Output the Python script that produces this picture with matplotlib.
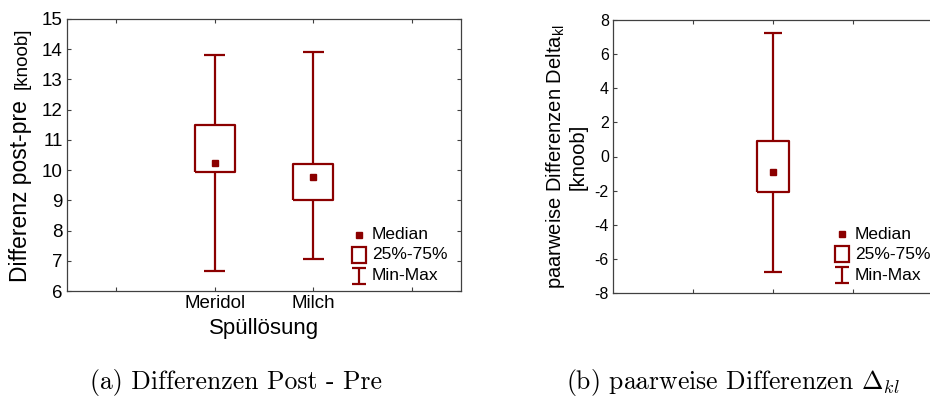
import matplotlib
matplotlib.use("Agg")
import matplotlib.pyplot as plt
from matplotlib import transforms
from matplotlib.lines import Line2D
from matplotlib.patches import Rectangle

plt.rcParams['font.family'] = ['Liberation Sans', 'DejaVu Sans']
plt.rcParams['axes.unicode_minus'] = False
plt.rcParams['mathtext.fontset'] = 'custom'
plt.rcParams['mathtext.rm'] = 'Liberation Sans'
plt.rcParams['mathtext.it'] = 'Liberation Sans:italic'

# data (a): differences post - pre per rinse
groups = ['Meridol', 'Milch']
mins = [6.65, 7.05]
q1s = [9.95, 9.0]
medians = [10.22, 9.78]
q3s = [11.48, 10.2]
maxs = [13.8, 13.9]

# data (b): pairwise differences
delta_min = -6.75
delta_q1 = -2.1
delta_med = -0.9
delta_q3 = 0.9
delta_max = 7.25

red = '#8b0000'
spine_col = '#404040'

fig = plt.figure(figsize=(9.3, 4.03), dpi=100)
ax1 = fig.add_axes([67/930, 112/403, 394/930, 272/403])
ax2 = fig.add_axes([613/930, 110/403, 320/930, 273/403])


def style_axes(ax, size, right=True):
    for s in ax.spines.values():
        s.set_color(spine_col)
        s.set_linewidth(0.9)
    ax.tick_params(direction='in', length=3, width=0.8, color=spine_col,
                   top=True, right=right, labelsize=size, pad=3)


def draw_box(ax, pos, lo, q1, med, q3, hi, width, capw):
    st = [dict(whislo=lo, q1=q1, med=med, q3=q3, whishi=hi, mean=med, fliers=[])]
    lp = dict(color=red, linewidth=1.6, solid_capstyle='butt')
    ax.bxp(st, positions=[pos], widths=width, capwidths=capw,
           showmeans=True, showfliers=False,
           boxprops=lp, whiskerprops=lp, capprops=lp,
           medianprops=dict(visible=False),
           meanprops=dict(marker='s', markersize=4.2, markerfacecolor=red,
                          markeredgecolor=red))


def draw_legend(ax, x0, y0, size):
    # offsets in pixels from the median marker
    tr = transforms.Affine2D() + transforms.ScaledTranslation(x0, y0, ax.transAxes)
    ax.add_line(Line2D([0], [0], marker='s', markersize=4, color=red,
                       linestyle='none', transform=tr, clip_on=False))
    ax.add_patch(Rectangle((-7, -28), 14, 16, fill=False, edgecolor=red,
                           linewidth=1.6, transform=tr, clip_on=False))
    for xs, ys in [([0, 0], [-33, -49]), ([-7, 7], [-33, -33]), ([-7, 7], [-49, -49])]:
        ax.add_line(Line2D(xs, ys, color=red, linewidth=1.6, transform=tr,
                           clip_on=False, solid_capstyle='butt'))
    for txt, yy in [('Median', 0), ('25%-75%', -20), ('Min-Max', -41)]:
        ax.text(13, yy, txt, transform=tr, fontsize=size, va='center', ha='left')


# (a)
for i in range(len(groups)):
    draw_box(ax1, i + 1, mins[i], q1s[i], medians[i], q3s[i], maxs[i], 0.41, 0.21)
ax1.set_xlim(-0.5, 3.5)
ax1.set_ylim(6, 15)
ax1.set_xticks([0, 1, 2, 3])
ax1.set_xticklabels([''] + groups + [''])
ax1.set_yticks(range(6, 16))
style_axes(ax1, 13.5)
ax1.set_xlabel('Spüllösung', fontsize=16, labelpad=4)
ax1.text(-0.1015, 0.033, 'Differenz post-pre', transform=ax1.transAxes,
         rotation=90, rotation_mode='anchor', fontsize=16.5,
         ha='left', va='baseline')
ax1.text(-0.1015, 0.967, '[knoob]', transform=ax1.transAxes,
         rotation=90, rotation_mode='anchor', fontsize=13.5,
         ha='right', va='baseline')
draw_legend(ax1, 0.741, 0.206, 12.5)

# (b)
draw_box(ax2, 1, delta_min, delta_q1, delta_med, delta_q3, delta_max, 0.41, 0.22)
ax2.set_xlim(-1, 3)
ax2.set_ylim(-8, 8)
ax2.set_xticks([0, 1, 2])
ax2.set_xticklabels([])
ax2.set_yticks(range(-8, 9, 2))
style_axes(ax2, 11.5, right=False)
ax2.set_ylabel('paarweise Differenzen Delta$_{\\mathrm{kl}}$\n[knoob]',
               fontsize=14.5, labelpad=5, linespacing=1.1)
draw_legend(ax2, 0.716, 0.216, 12.5)

# captions
fig.text(236/930, 1 - 383/403, '(a) Differenzen Post - Pre', family='cmr10',
         fontsize=18.5, ha='center', va='center')
fig.text(733/930, 1 - 383/403, '(b) paarweise Differenzen $\\Delta_{kl}$',
         family='cmr10', fontsize=18.5, ha='center', va='center',
         math_fontfamily='cm')

fig.savefig('out.png', dpi=100)
